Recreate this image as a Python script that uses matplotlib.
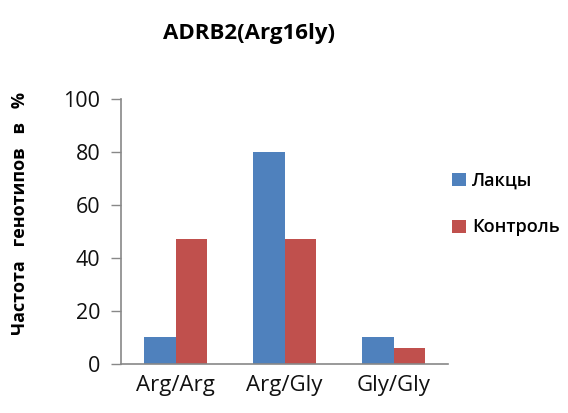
import matplotlib
matplotlib.use("Agg")
import matplotlib.pyplot as plt
import numpy as np

categories = ["Arg/Arg", "Arg/Gly", "Gly/Gly"]
series_names = ["Лакцы", "Контроль"]
lakcy = [10, 80, 10]
control = [47, 47, 6]
colors = ["#4F81BD", "#C0504D"]
yticks = [0, 20, 40, 60, 80, 100]

plt.rcParams["font.family"] = ["Open Sans", "DejaVu Sans"]

fig = plt.figure(figsize=(5.68, 4.13), dpi=100)
ax = fig.add_axes([0.213, 0.119, 0.576, 0.641])

x = np.arange(len(categories))
w = 0.286
b1 = ax.bar(x - w / 2, lakcy, w, color=colors[0], label=series_names[0])
b2 = ax.bar(x + w / 2, control, w, color=colors[1], label=series_names[1])

ax.set_xlim(-0.5, len(categories) - 0.5)
ax.set_ylim(0, 100)
ax.set_yticks(yticks)
ax.set_xticks(x)
ax.set_xticklabels(categories, fontsize=16)
ax.tick_params(axis="y", labelsize=15.5, length=7, color="#888888", width=1,
               direction="out", pad=8, labelcolor="#111111")
ax.tick_params(axis="x", length=0, pad=8, labelcolor="#111111")
for s in ["top", "right"]:
    ax.spines[s].set_visible(False)
for s in ["left", "bottom"]:
    ax.spines[s].set_color("#888888")
    ax.spines[s].set_linewidth(1.2)

fig.text(0.036, 0.482, "Частота   генотипов   в   %", fontsize=13, fontweight="bold",
         rotation=90, ha="center", va="center")
fig.text(0.438, 0.918, "ADRB2(Arg16ly)", fontsize=16, fontweight="bold", ha="center", va="center")

leg = fig.legend(handles=[b1, b2], loc="upper left", bbox_to_anchor=(0.768, 0.624),
                 frameon=False, fontsize=13, handlelength=0.75, handleheight=0.75,
                 labelspacing=1.6, handletextpad=0.35)
for t in leg.get_texts():
    t.set_fontweight("semibold")

fig.savefig("out.png", dpi=100)
